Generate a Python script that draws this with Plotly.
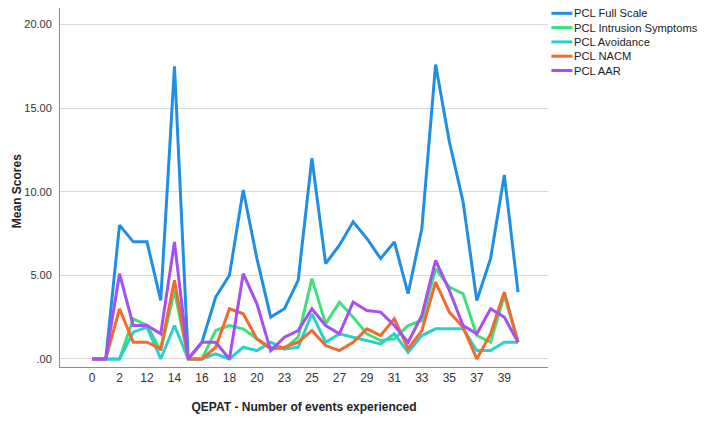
import plotly.graph_objects as go

# QEPAT categories (every other one gets a tick label)
events = ["0", "1", "2", "10", "12", "13", "14", "15", "16", "17", "18", "19", "20", "21",
          "23", "24", "25", "26", "27", "28", "29", "30", "31", "32", "33", "34", "35",
          "36", "37", "38", "39", "40"]

pcl_full = [0, 0, 8.0, 7.0, 7.0, 3.5, 17.5, 0, 1.0, 3.7, 5.0, 10.1, 6.0, 2.5, 3.0, 4.7,
            12.0, 5.7, 6.8, 8.2, 7.2, 6.0, 7.0, 3.9, 7.8, 17.6, 13.0, 9.4, 3.5, 6.0, 11.0, 4.0]
pcl_intrusion = [0, 0, 0, 2.4, 2.0, 0.5, 4.1, 0, 0, 1.7, 2.0, 1.8, 1.2, 0.7, 0.6, 1.3,
                 4.8, 2.1, 3.4, 2.5, 1.5, 1.1, 1.2, 2.0, 2.3, 5.4, 4.3, 3.9, 1.4, 1.0, 3.8, 1.0]
pcl_avoidance = [0, 0, 0, 1.6, 1.9, 0, 2.0, 0, 0, 0.3, 0, 0.7, 0.5, 1.0, 0.6, 0.7,
                 2.7, 1.0, 1.5, 1.3, 1.1, 0.9, 1.5, 0.4, 1.4, 1.8, 1.8, 1.8, 0.5, 0.5, 1.0, 1.0]
pcl_nacm = [0, 0, 3.0, 1.0, 1.0, 0.6, 4.7, 0, 0, 0.7, 3.0, 2.7, 1.2, 0.6, 0.7, 1.0,
            1.7, 0.8, 0.5, 1.0, 1.8, 1.4, 2.4, 0.6, 1.7, 4.6, 2.8, 1.9, 0, 1.5, 4.0, 1.0]
pcl_aar = [0, 0, 5.1, 2.0, 2.0, 1.5, 7.0, 0, 1.0, 1.0, 0, 5.1, 3.3, 0.5, 1.3, 1.7,
           3.0, 2.0, 1.5, 3.4, 2.9, 2.8, 2.0, 1.0, 2.6, 5.9, 4.1, 2.0, 1.5, 3.0, 2.5, 1.0]

y_ticks = [0, 5, 10, 15, 20]
y_tick_labels = [".00", "5.00", "10.00", "15.00", "20.00"]

series = [
    ("PCL Full Scale", pcl_full, "#1f8fe5"),
    ("PCL Intrusion Symptoms", pcl_intrusion, "#3ee07a"),
    ("PCL Avoidance", pcl_avoidance, "#2ccfcf"),
    ("PCL NACM", pcl_nacm, "#f26a2e"),
    ("PCL AAR", pcl_aar, "#a64ff2"),
]

font_family = "Liberation Sans, Arial, sans-serif"

# the page body adds an 8px margin, so the figure is 8px smaller than the window
fig_w, fig_h = 700, 424
plot_h = 359

fig = go.Figure()
for i, (name, vals, color) in enumerate(series):
    fig.add_trace(go.Scatter(
        x=events,
        y=vals,
        mode="lines",
        name=name,
        line=dict(color=color, width=3),
        showlegend=False,
    ))
    # compact SPSS-style legend drawn in paper space (plotly's own rows are too tall)
    ly = 1.0 - (5.3 + i * 14.3) / plot_h
    fig.add_shape(type="line", xref="paper", yref="paper",
                  x0=1.007, x1=1.05, y0=ly, y1=ly,
                  line=dict(color=color, width=3))
    fig.add_annotation(x=1.049, y=ly, xref="paper", yref="paper",
                       text=name, showarrow=False, xanchor="left", yanchor="middle",
                       font=dict(family=font_family, size=11.2, color="#222222"))

fig.add_annotation(x=-0.088, y=0.49, xref="paper", yref="paper",
                   text="<b>Mean Scores</b>", textangle=-90, showarrow=False,
                   xanchor="center", yanchor="middle",
                   font=dict(family=font_family, size=12, color="#222222"))

fig.update_layout(
    width=fig_w,
    height=fig_h,
    margin=dict(l=52, r=160, t=0, b=65),
    plot_bgcolor="white",
    paper_bgcolor="white",
    font=dict(family=font_family, size=11, color="#333333"),
    showlegend=False,
    xaxis=dict(
        type="category",
        range=[-2.33, 33.18],
        tickvals=events[::2],
        ticktext=events[::2],
        showgrid=False,
        showline=True,
        linecolor="#8c8c8c",
        linewidth=1,
        ticks="",
        automargin=False,
        tickfont=dict(size=12, color="#333333"),
        title=dict(text="<b>QEPAT - Number of events experienced</b>",
                   font=dict(size=12, color="#222222"), standoff=18),
    ),
    yaxis=dict(
        range=[-0.48, 20.98],
        tickvals=y_ticks,
        ticktext=y_tick_labels,
        showgrid=True,
        gridcolor="#d9d9d9",
        gridwidth=1,
        zeroline=False,
        showline=True,
        linecolor="#8c8c8c",
        linewidth=1,
        ticks="",
        automargin=False,
        ticklabelstandoff=5,
        tickfont=dict(size=11, color="#333333"),
    ),
)

fig.write_html("out.html")
